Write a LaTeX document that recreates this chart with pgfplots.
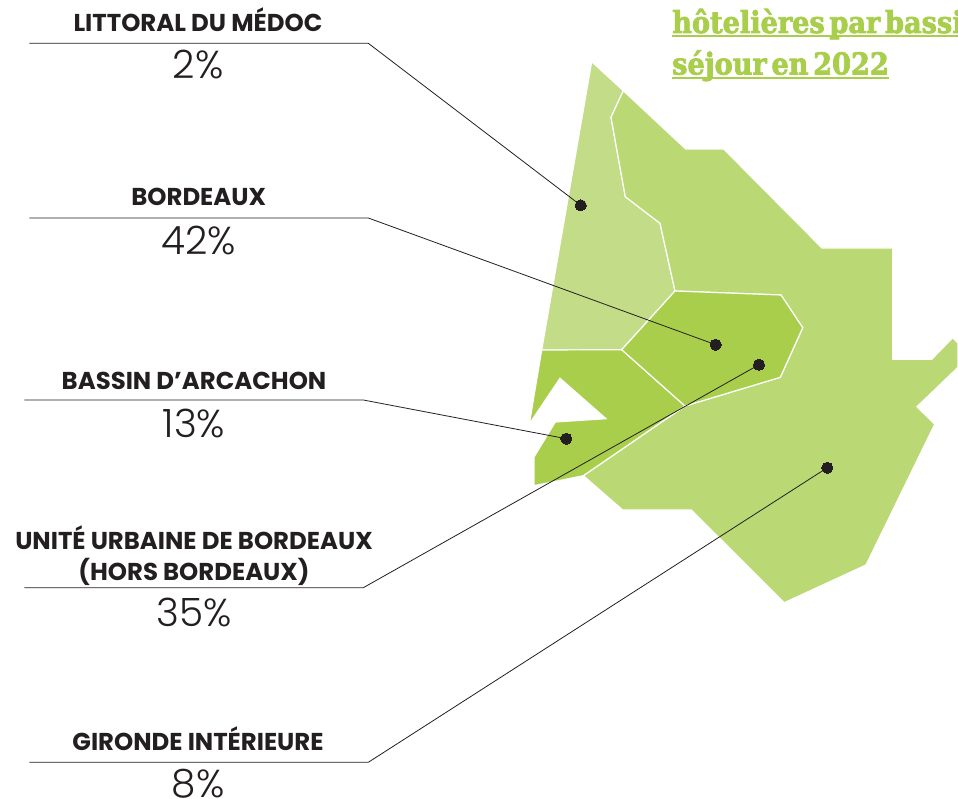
\documentclass[border=0pt]{standalone}
\usepackage{fontspec}
\usepackage{pgfplots}
\pgfplotsset{compat=1.18}
\setmainfont{Poppins}
\newfontfamily\lblfont{Poppins}[UprightFont=*-Bold]
\newfontfamily\pctfont{Poppins}[UprightFont=*-Light]
\newfontfamily\ttlfont{DejaVu Serif Condensed}[UprightFont=* Bold,FakeBold=2.4,WordSpace=0.5]
\definecolor{zoneA}{HTML}{C3DC87}
\definecolor{zoneB}{HTML}{BAD975}
\definecolor{zoneC}{HTML}{A8CE4C}
\definecolor{ink}{HTML}{231F20}
% Map regions, pixel coordinates of the reference
\pgfplotstableread{
x y
591.7 61.7
623.3 90.7
611 117.3
625.3 196.7
660 223.3
675 291
621.7 349.7
541.7 350
}\medoc
\pgfplotstableread{
x y
623.3 90.7
685.7 149
723.7 149
822 248
892.7 248
892.7 359.3
931.7 359.3
952.7 337.7
958 343
958 367.3
917 406.7
934.7 424.3
866 565
784.3 602.7
691.3 510
622.7 510
583.3 475.7
685 406
780.3 377.3
802.7 327.7
781 295
675 291
660 223.3
625.3 196.7
611 117.3
}\gironde
\pgfplotstableread{
x y
675 291
781 295
802.7 327.7
780.3 377.3
685 406
621.7 349.7
}\bordeaux
\pgfplotstableread{
x y
541.7 350
621.7 349.7
685 406
583.3 475.7
534 485.7
534 457
555.3 422
606 418.7
560 378.3
529.3 424
}\arcachon
\newcommand{\lbl}[3]{\node[anchor=base,font=\lblfont\fontsize{24.4}{24.4}\selectfont,text=ink] at (axis cs:#1,#2) {#3};}
\newcommand{\pct}[3]{\node[anchor=base,font=\pctfont\fontsize{39}{39}\selectfont,text=ink] at (axis cs:#1,#2) {#3};}
\begin{document}
\begin{tikzpicture}
\path[use as bounding box] (0,0) rectangle (958pt,799pt);
\begin{axis}[
    at={(0,0)}, anchor=south west,
    scale only axis, width=958pt, height=799pt,
    xmin=0, xmax=958, ymin=0, ymax=799,
    y dir=reverse,
    hide axis, clip=false,
]
\addplot[fill=zoneA, draw=white, line width=1.2pt] table {\medoc} -- cycle;
\addplot[fill=zoneB, draw=white, line width=1.2pt] table {\gironde} -- cycle;
\addplot[fill=zoneC, draw=white, line width=1.2pt] table {\arcachon} -- cycle;
\addplot[fill=zoneC, draw=white, line width=1.2pt] table {\bordeaux} -- cycle;

% Leaders
\addplot[ink, line width=0.8pt] coordinates {(29.3,43.3) (368.3,43.3) (580.7,205.3)};
\addplot[ink, line width=0.8pt] coordinates {(29.3,218) (368.3,218) (715.7,344.7)};
\addplot[ink, line width=0.8pt] coordinates {(24.3,400) (363.3,400) (566.3,438.7)};
\addplot[ink, line width=0.8pt] coordinates {(24.3,587.7) (363.3,587.7) (759,364.7)};
\addplot[ink, line width=0.8pt] coordinates {(29.3,762.3) (368.3,762.3) (827.3,467.7)};
\addplot[only marks, mark=*, mark size=5.6pt, mark options={fill=ink, draw=ink, line width=0pt}]
    coordinates {(580.7,205.3) (715.7,344.7) (566.3,438.7) (759,364.7) (827.3,467.7)};

% Title underlines
\addplot[zoneC, line width=1.4pt] coordinates {(672,36) (958,36)};
\addplot[zoneC, line width=1.4pt] coordinates {(672,78) (889,78)};
\node[anchor=base west,font=\ttlfont\fontsize{30.2}{30.2}\selectfont,text=zoneC,inner sep=0pt] at (axis cs:672,33) {hôtelières par bassi};
\node[anchor=base west,font=\ttlfont\fontsize{30.2}{30.2}\selectfont,text=zoneC,inner sep=0pt] at (axis cs:672,74.5) {séjour en 2022};

\lbl{198}{31.7}{LITTORAL DU MÉDOC}
\pct{198.3}{78.7}{2\%}
\lbl{198.7}{205.7}{BORDEAUX}
\pct{198.5}{254.3}{42\%}
\lbl{194}{389}{BASSIN D’ARCACHON}
\pct{194}{437}{13\%}
\lbl{194}{549}{UNITÉ URBAINE DE BORDEAUX}
\lbl{194}{580}{(HORS BORDEAUX)}
\pct{194}{626}{35\%}
\lbl{198}{750}{GIRONDE INTÉRIEURE}
\pct{198}{797}{8\%}
\end{axis}
\end{tikzpicture}
\end{document}
